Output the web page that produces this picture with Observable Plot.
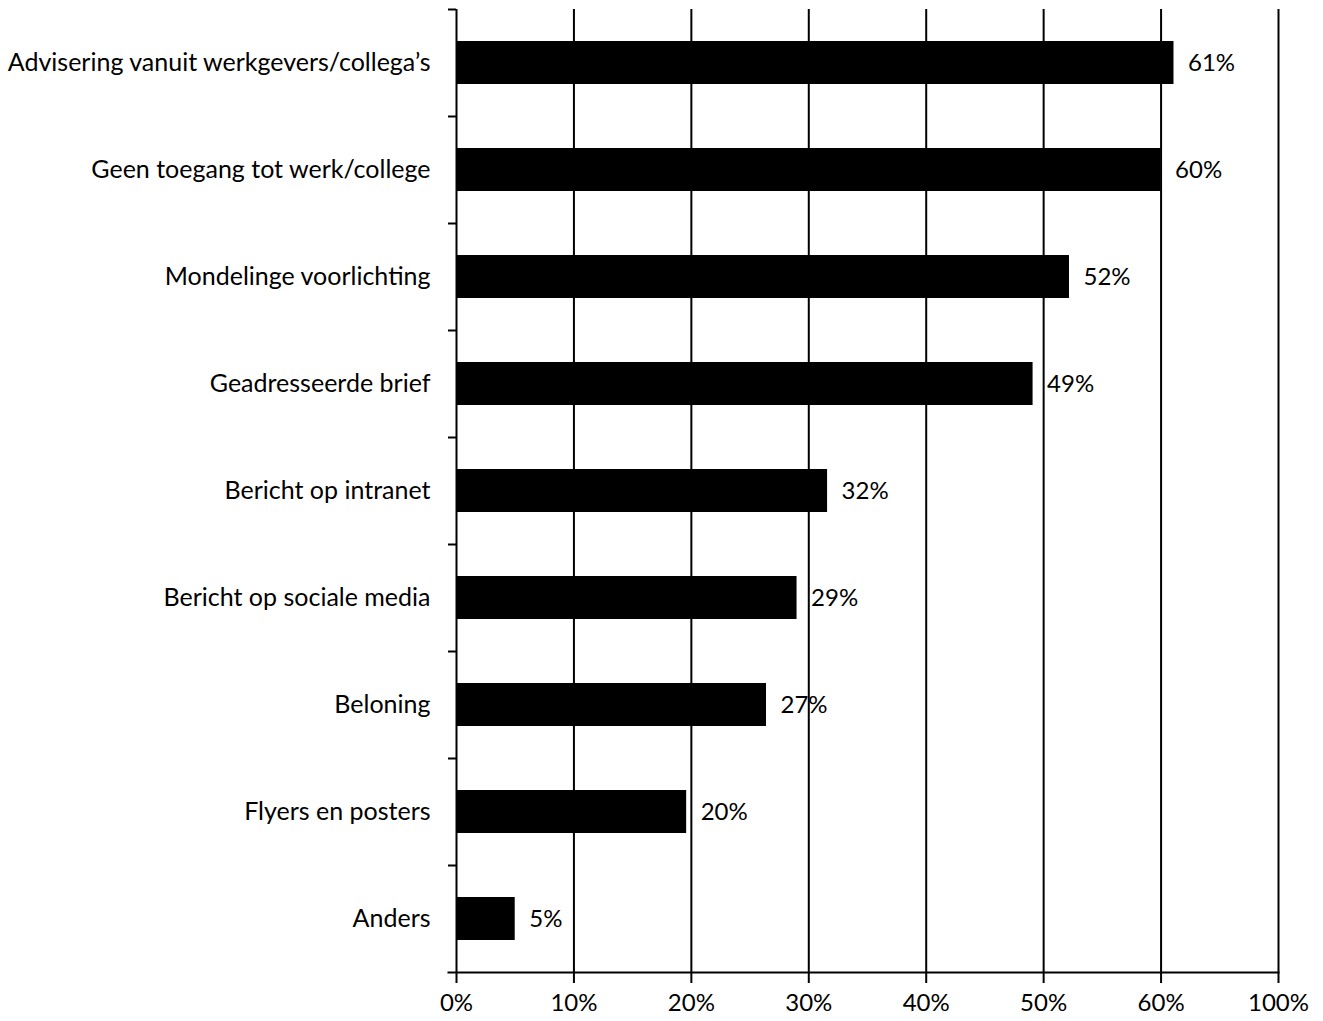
<!DOCTYPE html>
<html>
<head>
<meta charset="utf-8">
<script src="https://cdn.jsdelivr.net/npm/d3@7"></script>
<script src="https://cdn.jsdelivr.net/npm/@observablehq/plot@0.6"></script>
<style>
  body { margin: 0; background: #fff; }
  #chart svg { font-family: Lato, sans-serif; }
</style>
</head>
<body>
<div id="chart"></div>
<script>
const categories = [
  "Advisering vanuit werkgevers/collega’s",
  "Geen toegang tot werk/college",
  "Mondelinge voorlichting",
  "Geadresseerde brief",
  "Bericht op intranet",
  "Bericht op sociale media",
  "Beloning",
  "Flyers en posters",
  "Anders"
];
const values = [61.1, 60.0, 52.2, 49.1, 31.6, 29.0, 26.4, 19.6, 5.0];
const valueLabels = ["61%", "60%", "52%", "49%", "32%", "29%", "27%", "20%", "5%"];
const tickValues = [0, 10, 20, 30, 40, 50, 60, 70];
const tickLabels = ["0%", "10%", "20%", "30%", "40%", "50%", "60%", "100%"];

const data = categories.map((c, i) => ({category: c, value: values[i], label: valueLabels[i]}));

const W = 1323, H = 1021, mt = 9, mb = 49, ml = 456, mr = 45;
const step = (H - mt - mb) / categories.length;
const fmt = (d) => tickLabels[tickValues.indexOf(d)];

const chart = Plot.plot({
  width: W,
  height: H,
  marginTop: mt,
  marginBottom: mb,
  marginLeft: ml,
  marginRight: mr,
  style: {fontSize: "25px", fontFamily: "Lato, sans-serif", color: "#000", background: "#fff"},
  x: {domain: [0, 70], label: null},
  y: {domain: categories, paddingInner: 0.6, paddingOuter: 0.3, label: null},
  marks: [
    Plot.ruleX(tickValues, {stroke: "#000", strokeWidth: 2}),
    Plot.barX(data, {y: "category", x: "value", fill: "#000"}),
    Plot.ruleY(data, {y: "category", x1: 0, x2: 0, dy: -step / 2, insetLeft: -8, stroke: "#000", strokeWidth: 2}),
    Plot.frame({anchor: "bottom", insetLeft: -8, stroke: "#000", strokeWidth: 2}),
    Plot.text(data, {y: "category", x: "value", text: "label", textAnchor: "start", dx: 14, fill: "#000", fontSize: 24}),
    Plot.axisX({tickSize: 11, tickPadding: 10, ticks: tickValues, tickFormat: fmt, strokeWidth: 2, fontSize: 24, label: null}),
    Plot.axisY({tickSize: 0, tickPadding: 26, fontSize: 25, label: null})
  ]
});
document.getElementById("chart").appendChild(chart);
</script>
</body>
</html>
